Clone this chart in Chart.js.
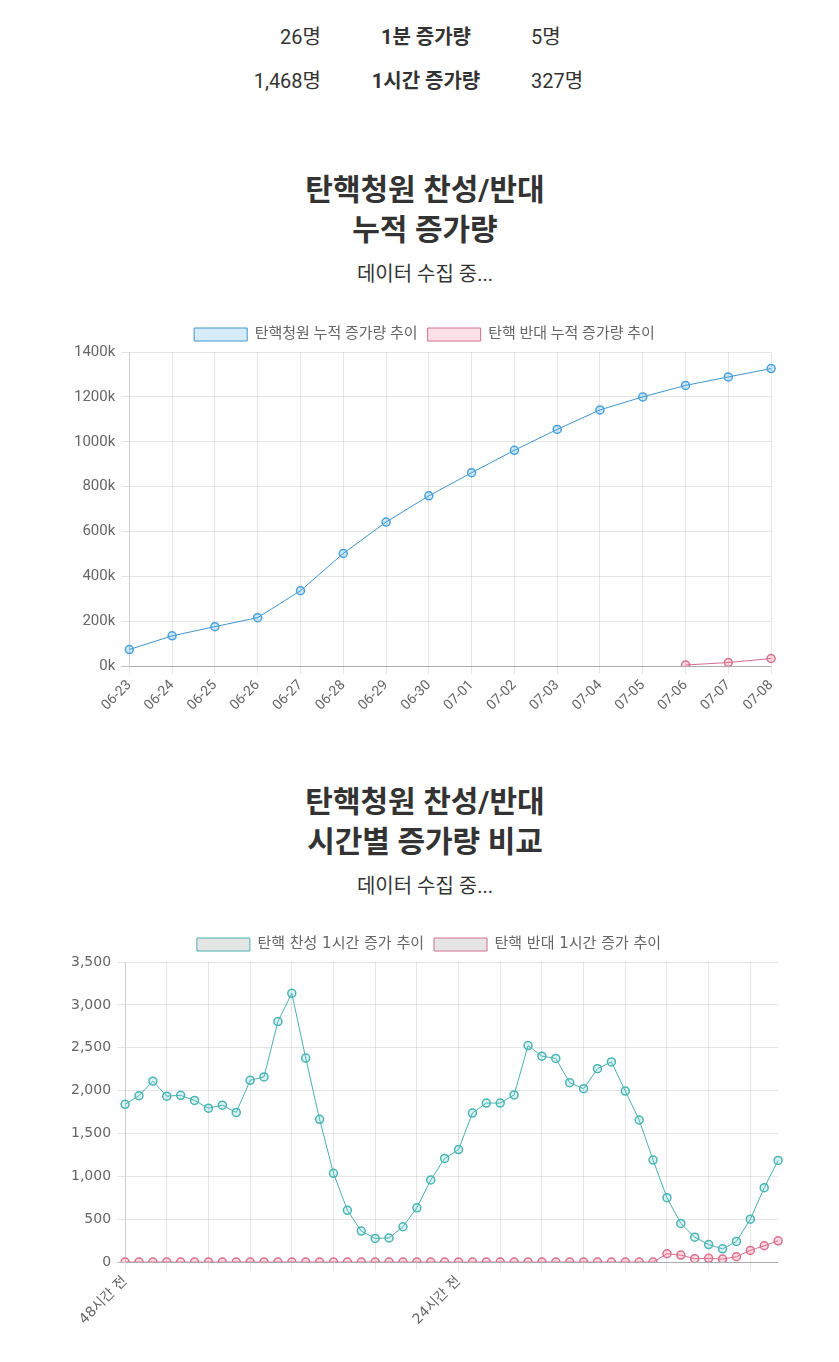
<!DOCTYPE html>
<html lang="ko">
<head>
<meta charset="utf-8">
<title>탄핵청원 찬성/반대</title>
<script src="https://cdn.jsdelivr.net/npm/chart.js@4/dist/chart.umd.min.js"></script>
<style>
    body {
        margin: 0;
        background: #fff;
        color: #333;
        font-family: Roboto, "Noto Sans CJK KR", sans-serif;
    }
    .wrap {
        width: 722px;
        margin-left: 64px;
    }
    .stats {
        padding-top: 15px;
    }
    .stat-row {
        display: grid;
        grid-template-columns: 257px 210px 1fr;
        height: 44px;
        line-height: 44px;
        font-size: 20px;
    }
    .stat-row .left { text-align: right; }
    .stat-row .mid { text-align: center; font-weight: bold; }
    .stat-row .right { text-align: left; }
    h2 {
        margin: 67px 0 0 0;
        font-size: 30px;
        line-height: 40px;
        text-align: center;
        font-weight: bold;
        color: #333;
    }
    h2.second { margin-top: 65px; }
    .sub {
        margin-top: 12px;
        font-size: 20px;
        line-height: 24px;
        text-align: center;
        color: #333;
    }
    .chart-box {
        position: relative;
        width: 722px;
        height: 400px;
        margin-top: 31px;
    }
    .chart-box.second {
        width: 729px;
        height: 404px;
        margin-top: 29px;
    }
</style>
</head>
<body>
<div class="wrap">
    <div class="stats">
        <div class="stat-row">
            <div class="left">26명</div>
            <div class="mid">1분 증가량</div>
            <div class="right">5명</div>
        </div>
        <div class="stat-row">
            <div class="left">1,468명</div>
            <div class="mid">1시간 증가량</div>
            <div class="right">327명</div>
        </div>
    </div>

    <h2>탄핵청원 찬성/반대<br>누적 증가량</h2>
    <div class="sub">데이터 수집 중...</div>
    <div class="chart-box"><canvas id="totalChart"></canvas></div>

    <h2 class="second">탄핵청원 찬성/반대<br>시간별 증가량 비교</h2>
    <div class="sub">데이터 수집 중...</div>
    <div class="chart-box second"><canvas id="hourlyChart"></canvas></div>
</div>

<script>
// Cumulative totals by day
const dayLabels = ['06-23', '06-24', '06-25', '06-26', '06-27', '06-28', '06-29', '06-30',
    '07-01', '07-02', '07-03', '07-04', '07-05', '07-06', '07-07', '07-08'];
const supportTotals = [74000, 135000, 176000, 216000, 336000, 502000, 642000, 759000,
    862000, 962000, 1055000, 1142000, 1200000, 1251000, 1289000, 1326000];
const opposeTotals = [null, null, null, null, null, null, null, null,
    null, null, null, null, null, 5000, 16000, 34000];

// Hourly increase over the last 48 hours (only two labels shown)
const hourLabels = ['48시간 전', '', '', '', '', '', '', '', '', '', '', '', '', '', '', '', '', '', '', '', '', '', '', '',
    '24시간 전', '', '', '', '', '', '', '', '', '', '', '', '', '', '', '', '', '', '', '', '', '', '', ''];
const supportHourly = [1840, 1940, 2110, 1935, 1945, 1885, 1795, 1830, 1745, 2120, 2160, 2805,
    3135, 2380, 1665, 1035, 603, 362, 276, 281, 412, 633, 958, 1209,
    1312, 1738, 1855, 1855, 1950, 2525, 2402, 2375, 2092, 2022, 2255, 2335,
    1995, 1657, 1190, 751, 450, 290, 204, 154, 240, 500, 868, 1185];
const opposeHourly = [0, 0, 0, 0, 0, 0, 0, 0, 0, 0, 0, 0,
    0, 0, 0, 0, 0, 0, 0, 0, 0, 0, 0, 0,
    0, 0, 0, 0, 0, 0, 0, 0, 0, 0, 0, 0,
    0, 0, 0, 97, 81, 39, 43, 35, 62, 136, 190, 248];

const gridColor = 'rgba(0, 0, 0, 0.1)';
const zeroColor = 'rgba(0, 0, 0, 0.25)';

// Cumulative chart
new Chart(document.getElementById('totalChart').getContext('2d'), {
    type: 'line',
    data: {
        labels: dayLabels,
        datasets: [{
            label: '탄핵청원 누적 증가량 추이',
            data: supportTotals,
            borderColor: '#3e95cd',
            backgroundColor: 'rgba(54, 162, 235, 0.2)',
            pointBackgroundColor: 'rgba(54, 162, 235, 0.25)',
            pointBorderColor: '#4aa3dc',
            borderWidth: 1,
            pointRadius: 4,
            pointBorderWidth: 1.5,
            tension: 0,
            fill: false
        }, {
            label: '탄핵 반대 누적 증가량 추이',
            data: opposeTotals,
            borderColor: '#d0708c',
            backgroundColor: 'rgba(255, 99, 132, 0.2)',
            pointBackgroundColor: 'rgba(255, 99, 132, 0.25)',
            pointBorderColor: '#d8708f',
            borderWidth: 1,
            pointRadius: 4,
            pointBorderWidth: 1.5,
            tension: 0,
            fill: false
        }]
    },
    options: {
        responsive: true,
        maintainAspectRatio: false,
        animation: false,
        layout: { padding: { left: 4, right: 5 } },
        plugins: {
            legend: {
                labels: {
                    boxWidth: 53,
                    boxHeight: 13,
                    color: '#666',
                    font: { size: 15, family: 'Roboto, "Noto Sans CJK KR"' }
                }
            },
            tooltip: { enabled: false }
        },
        scales: {
            x: {
                grid: { color: gridColor },
                ticks: {
                    minRotation: 45,
                    maxRotation: 45,
                    color: '#666',
                    font: { size: 14, family: 'Roboto' }
                }
            },
            y: {
                min: 0,
                max: 1400000,
                grid: {
                    color: ctx => ctx.tick && ctx.tick.value === 0 ? zeroColor : gridColor
                },
                ticks: {
                    stepSize: 200000,
                    padding: 6,
                    color: '#666',
                    font: { size: 15, family: 'Roboto' },
                    callback: value => (value / 1000) + 'k'
                }
            }
        }
    }
});

// Hourly chart
new Chart(document.getElementById('hourlyChart').getContext('2d'), {
    type: 'line',
    data: {
        labels: hourLabels,
        datasets: [{
            label: '탄핵 찬성 1시간 증가 추이',
            data: supportHourly,
            borderColor: '#4bb0b0',
            backgroundColor: 'rgba(0, 0, 0, 0.1)',
            pointBackgroundColor: 'rgba(75, 192, 192, 0.2)',
            pointBorderColor: '#4bb4b4',
            borderWidth: 1,
            pointRadius: 4,
            pointBorderWidth: 1.5,
            tension: 0,
            fill: false
        }, {
            label: '탄핵 반대 1시간 증가 추이',
            data: opposeHourly,
            borderColor: '#d0708c',
            backgroundColor: 'rgba(0, 0, 0, 0.1)',
            pointBackgroundColor: 'rgba(255, 99, 132, 0.25)',
            pointBorderColor: '#d8708f',
            borderWidth: 1,
            pointRadius: 4,
            pointBorderWidth: 1.5,
            tension: 0,
            fill: false
        }]
    },
    options: {
        responsive: true,
        maintainAspectRatio: false,
        animation: false,
        layout: { padding: { left: 1 } },
        plugins: {
            legend: {
                labels: {
                    boxWidth: 53,
                    boxHeight: 13,
                    color: '#666',
                    font: { size: 15, family: '"DejaVu Sans", "Noto Sans CJK KR"' }
                }
            },
            tooltip: { enabled: false }
        },
        scales: {
            x: {
                grid: {
                    color: ctx => ctx.index % 3 === 0 ? gridColor : 'transparent'
                },
                ticks: {
                    autoSkip: false,
                    minRotation: 45,
                    maxRotation: 45,
                    color: '#666',
                    font: { size: 14, family: '"DejaVu Sans", "Noto Sans CJK KR"' }
                }
            },
            y: {
                min: 0,
                max: 3500,
                grid: {
                    color: ctx => ctx.tick && ctx.tick.value === 0 ? zeroColor : gridColor
                },
                ticks: {
                    stepSize: 500,
                    padding: 6,
                    color: '#666',
                    font: { size: 14, family: '"DejaVu Sans"' },
                    callback: value => value.toLocaleString('en-US')
                }
            }
        }
    }
});
</script>
</body>
</html>
